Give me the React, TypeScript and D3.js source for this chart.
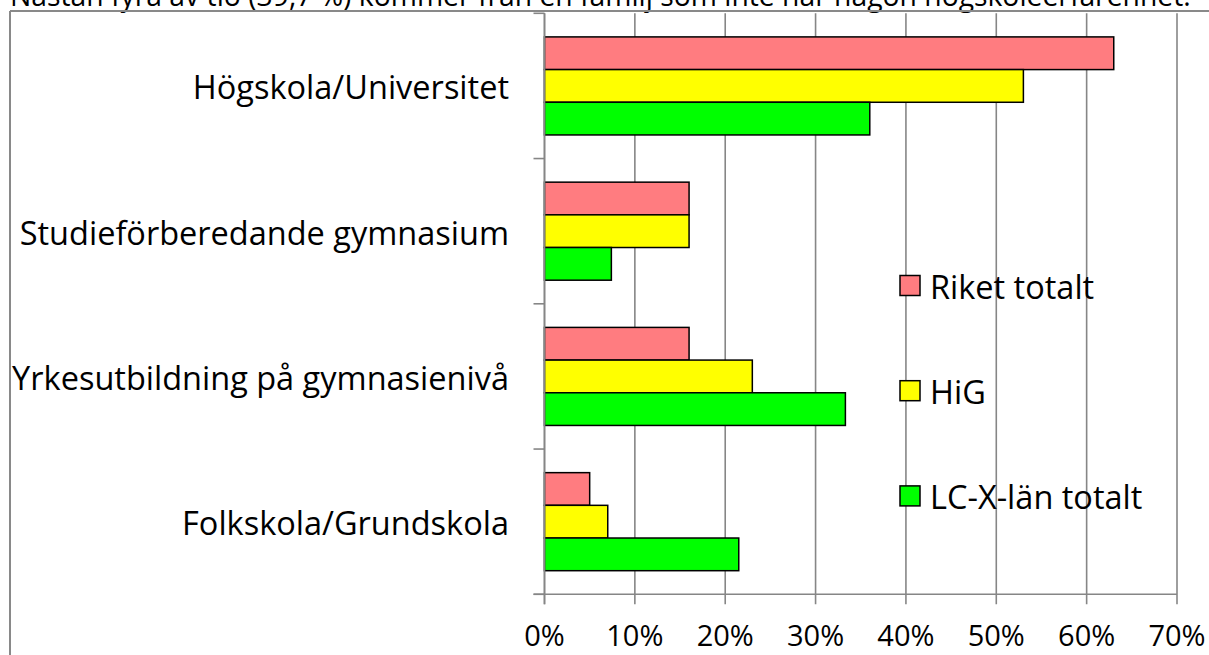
import React from "react";
import * as d3 from "d3";

const categories = [
  "Högskola/Universitet",
  "Studieförberedande gymnasium",
  "Yrkesutbildning på gymnasienivå",
  "Folkskola/Grundskola",
];
const seriesNames = ["Riket totalt", "HiG", "LC-X-län totalt"];
const seriesColors = ["#FF7C80", "#FFFF00", "#00FF00"];
const riket = [63, 16, 16, 5];
const hig = [53, 16, 23, 7];
const lcx = [36, 7.4, 33.3, 21.5];
const seriesValues = [riket, hig, lcx];
const xTicks = [0, 10, 20, 30, 40, 50, 60, 70];
const title =
  "Nästan fyra av tio (39,7 %) kommer från en familj som inte har någon högskoleerfarenhet.";

const W = 1209;
const H = 655;
const FONT = "'Open Sans', 'Noto Sans', sans-serif";
const GRID = "#868686";

export default function App() {
  const plotLeft = 544.5;
  const plotRight = 1177;
  const plotTop = 13.3;
  const plotBottom = 594.3;

  const x = d3.scaleLinear().domain([0, 70]).range([plotLeft, plotRight]);
  const y = d3.scaleBand<string>().domain(categories).range([plotTop, plotBottom]).padding(0);
  const bw = y.bandwidth();
  const gap = bw * 0.1625;
  const ys = d3
    .scaleBand<string>()
    .domain(seriesNames)
    .range([gap, bw - gap])
    .padding(0);

  const ticksY = [...categories.map((c) => y(c) as number), plotBottom];

  return (
    <div style={{ position: "fixed", left: 0, top: 0 }}>
      <svg width={W} height={H} style={{ display: "block", background: "#fff" }}>
        <text x={10} y={6} fontFamily={FONT} fontSize={28.3} fill="#000">
          {title}
        </text>
        {/* frame */}
        <line x1={10} y1={11} x2={W} y2={11} stroke="#898989" strokeWidth={2} />
        <line x1={10} y1={11} x2={10} y2={H} stroke="#898989" strokeWidth={2} />

        {/* gridlines */}
        {xTicks.map((t) => (
          <line
            key={"g" + t}
            x1={x(t)}
            x2={x(t)}
            y1={plotTop}
            y2={plotBottom + 10}
            stroke={GRID}
            strokeWidth={1.6}
          />
        ))}
        {/* bottom axis */}
        <line x1={plotLeft - 11} x2={plotRight} y1={plotBottom} y2={plotBottom} stroke={GRID} strokeWidth={1.6} />
        {/* category ticks */}
        {ticksY.map((ty, i) => (
          <line key={"t" + i} x1={plotLeft - 11} x2={plotLeft} y1={ty} y2={ty} stroke={GRID} strokeWidth={1.6} />
        ))}

        {/* bars */}
        {categories.map((c, ci) =>
          seriesNames.map((s, si) => (
            <rect
              key={c + s}
              x={x(0)}
              y={(y(c) as number) + (ys(s) as number)}
              width={x(seriesValues[si][ci]) - x(0)}
              height={ys.bandwidth()}
              fill={seriesColors[si]}
              stroke="#000"
              strokeWidth={1.5}
            />
          ))
        )}
        {/* value axis line on top */}
        <line x1={plotLeft} x2={plotLeft} y1={plotTop} y2={plotBottom + 10} stroke={GRID} strokeWidth={1.6} />

        {/* category labels */}
        {categories.map((c) => (
          <text
            key={"l" + c}
            x={509}
            y={(y(c) as number) + bw / 2 + 1}
            textAnchor="end"
            dominantBaseline="central"
            fontFamily={FONT}
            fontSize={32.5}
            fill="#000"
          >
            {c}
          </text>
        ))}

        {/* x labels */}
        {xTicks.map((t) => (
          <text
            key={"x" + t}
            x={x(t)}
            y={646}
            textAnchor="middle"
            fontFamily={FONT}
            fontSize={29}
            fill="#000"
          >
            {t + "%"}
          </text>
        ))}

        {/* legend */}
        {seriesNames.map((s, i) => {
          const cy = 285.5 + i * 105.2;
          return (
            <g key={"lg" + s}>
              <rect x={900} y={cy - 10} width={20} height={20} fill={seriesColors[i]} stroke="#000" strokeWidth={1.5} />
              <text
                x={930}
                y={cy + 1}
                dominantBaseline="central"
                fontFamily={FONT}
                fontSize={32.5}
                fill="#000"
              >
                {s}
              </text>
            </g>
          );
        })}
      </svg>
    </div>
  );
}
